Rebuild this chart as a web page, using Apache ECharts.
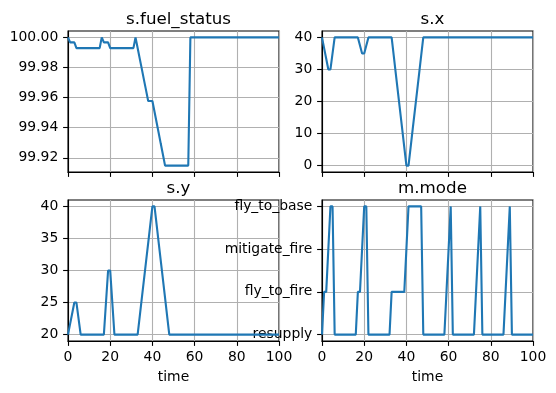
<!DOCTYPE html>
<html>
<head>
<meta charset="utf-8">
<script src="https://cdn.jsdelivr.net/npm/echarts@6/dist/echarts.min.js"></script>
<style>
html,body{margin:0;padding:0;background:#fff;}
#chart{width:556px;height:393px;}
</style>
</head>
<body>
<div id="chart"></div>
<script>
const time = [0,1,2,3,4,5,6,7,8,9,10,11,12,13,14,15,16,17,18,19,20,21,22,23,24,25,26,27,28,29,30,31,32,33,34,35,36,37,38,39,40,41,42,43,44,45,46,47,48,49,50,51,52,53,54,55,56,57,58,59,60,61,62,63,64,65,66,67,68,69,70,71,72,73,74,75,76,77,78,79,80,81,82,83,84,85,86,87,88,89,90,91,92,93,94,95,96,97,98,99,100];

const fuelStatus = [100,
 99.9967,99.9967,99.9967,
 99.9929,99.9929,99.9929,99.9929,99.9929,99.9929,99.9929,99.9929,99.9929,99.9929,99.9929,99.9929,
 100,
 99.9967,99.9967,99.9967,
 99.9929,99.9929,99.9929,99.9929,99.9929,99.9929,99.9929,99.9929,99.9929,99.9929,99.9929,99.9929,
 100,
 99.9930,99.9859,99.9789,99.9718,99.9648,
 99.9577,99.9577,99.9577,
 99.9506,99.9434,99.9363,99.9291,99.9220,
 99.9148,99.9148,99.9148,99.9148,99.9148,99.9148,99.9148,99.9148,99.9148,99.9148,99.9148,99.9148,
 100,100,100,100,100,100,100,100,100,100,100,100,100,100,100,100,100,100,100,100,100,100,100,100,100,100,100,100,100,100,100,100,100,100,100,100,100,100,100,100,100,100,100];

const posX = [40,36.67,33.33,30,30,35,
 40,40,40,40,40,40,40,40,40,40,40,40,
 37.5,35,35,37.5,
 40,40,40,40,40,40,40,40,40,40,40,40,
 34.29,28.57,22.86,17.14,11.43,5.71,0,
 0,
 5.71,11.43,17.14,22.86,28.57,34.29,
 40,40,40,40,40,40,40,40,40,40,40,40,40,40,40,40,40,40,40,40,40,40,40,40,40,40,40,40,40,40,40,40,40,40,40,40,40,40,40,40,40,40,40,40,40,40,40,40,40,40,40,40,40];

const posY = [20,21.67,23.33,25,25,22.5,
 20,20,20,20,20,20,20,20,20,20,20,20,
 25,30,30,25,
 20,20,20,20,20,20,20,20,20,20,20,20,
 22.86,25.71,28.57,31.43,34.29,37.14,40,
 40,
 37.14,34.29,31.43,28.57,25.71,22.86,
 20,20,20,20,20,20,20,20,20,20,20,20,20,20,20,20,20,20,20,20,20,20,20,20,20,20,20,20,20,20,20,20,20,20,20,20,20,20,20,20,20,20,20,20,20,20,20,20,20,20,20,20,20];

const modeCategories = ['resupply','fly_to_fire','mitigate_fire','fly_to_base'];

const mode = ['resupply','fly_to_fire','fly_to_fire','mitigate_fire','fly_to_base','fly_to_base',
 'resupply','resupply','resupply','resupply','resupply','resupply','resupply','resupply','resupply','resupply','resupply',
 'fly_to_fire','fly_to_fire','mitigate_fire','fly_to_base','fly_to_base',
 'resupply','resupply','resupply','resupply','resupply','resupply','resupply','resupply','resupply','resupply','resupply',
 'fly_to_fire','fly_to_fire','fly_to_fire','fly_to_fire','fly_to_fire','fly_to_fire','fly_to_fire',
 'mitigate_fire',
 'fly_to_base','fly_to_base','fly_to_base','fly_to_base','fly_to_base','fly_to_base','fly_to_base',
 'resupply','resupply','resupply','resupply','resupply','resupply','resupply','resupply','resupply','resupply','resupply',
 'fly_to_fire','mitigate_fire','fly_to_base',
 'resupply','resupply','resupply','resupply','resupply','resupply','resupply','resupply','resupply','resupply','resupply',
 'fly_to_fire','mitigate_fire','fly_to_base',
 'resupply','resupply','resupply','resupply','resupply','resupply','resupply','resupply','resupply','resupply','resupply',
 'fly_to_fire','mitigate_fire','fly_to_base',
 'resupply','resupply','resupply','resupply','resupply','resupply','resupply','resupply','resupply','resupply','resupply'];

const titles = ['s.fuel_status','s.x','s.y','m.mode'];
const fuelTicks = [99.92,99.94,99.96,99.98,100.00];
const xTicks = [0,10,20,30,40];
const yTicks = [20,25,30,35,40];
const modeTicks = [0,1,2,3];

const FONT = 'DejaVu Sans';
const chart = echarts.init(document.getElementById('chart'), null, {renderer:'canvas'});

const grids = [
  {left:68, top:31, width:211, height:141},
  {left:322, top:31, width:211, height:141},
  {left:68, top:200, width:211, height:141},
  {left:322, top:200, width:211, height:141}
];

function xAxisCfg(i){
  const bottom = i >= 2;
  return {
    type:'value', gridIndex:i, min:0, max:100, interval:20,
    axisLine:{show:true, onZero:false, lineStyle:{color:'#000', width:1.1}},
    axisTick:{show:true, length:4.9, lineStyle:{color:'#000', width:1.1}},
    axisLabel:{show:bottom, fontSize:13.9, color:'#000', fontFamily:FONT, margin:9},
    splitLine:{show:true, lineStyle:{color:'#b0b0b0', width:1.1}},
    name: bottom ? 'time' : '',
    nameLocation:'middle', nameGap:29,
    nameTextStyle:{fontSize:13.9, color:'#000', fontFamily:FONT}
  };
}
function yAxisCfg(i, min, max, ticks, fmt){
  return {
    type:'value', gridIndex:i, min:min, max:max,
    axisLine:{show:true, onZero:false, lineStyle:{color:'#000', width:1.1}},
    axisTick:{show:true, length:4.9, customValues:ticks, lineStyle:{color:'#000', width:1.1}},
    axisLabel:{show:true, customValues:ticks, fontSize:13.9, color:'#000', fontFamily:FONT, margin:9.7, formatter:fmt},
    splitLine:{show:true, lineStyle:{color:'#b0b0b0', width:1.1}}
  };
}

function lineSeries(i, values){
  return {
    type:'line', xAxisIndex:i, yAxisIndex:i,
    data: time.map((t,k)=>[t, values[k]]),
    showSymbol:false, symbol:'none',
    lineStyle:{color:'#1f77b4', width:2.1},
    itemStyle:{color:'#1f77b4'},
    animation:false
  };
}

const modeIdx = mode.map(m => modeCategories.indexOf(m));

const option = {
  backgroundColor:'#fff',
  animation:false,
  title: titles.map((t,i)=>({
    text:t,
    left: grids[i].left + grids[i].width/2,
    top: i < 2 ? 6 : 175,
    textAlign:'center',
    textStyle:{fontSize:16.7, fontWeight:'normal', color:'#000', fontFamily:FONT}
  })),
  grid: grids.map(g=>Object.assign({show:true, borderColor:'#000', borderWidth:1.1, backgroundColor:'transparent'}, g)),
  xAxis:[0,1,2,3].map(xAxisCfg),
  yAxis:[
    yAxisCfg(0, 99.91054, 100.00426, fuelTicks, v=>Number(v).toFixed(2)),
    yAxisCfg(1, -2, 42, xTicks, v=>String(v)),
    yAxisCfg(2, 19, 41, yTicks, v=>String(v)),
    yAxisCfg(3, -0.15, 3.15, modeTicks, v=>modeCategories[Math.round(v)])
  ],
  series:[
    lineSeries(0, fuelStatus),
    lineSeries(1, posX),
    lineSeries(2, posY),
    lineSeries(3, modeIdx)
  ]
};
chart.setOption(option);
</script>
</body>
</html>
